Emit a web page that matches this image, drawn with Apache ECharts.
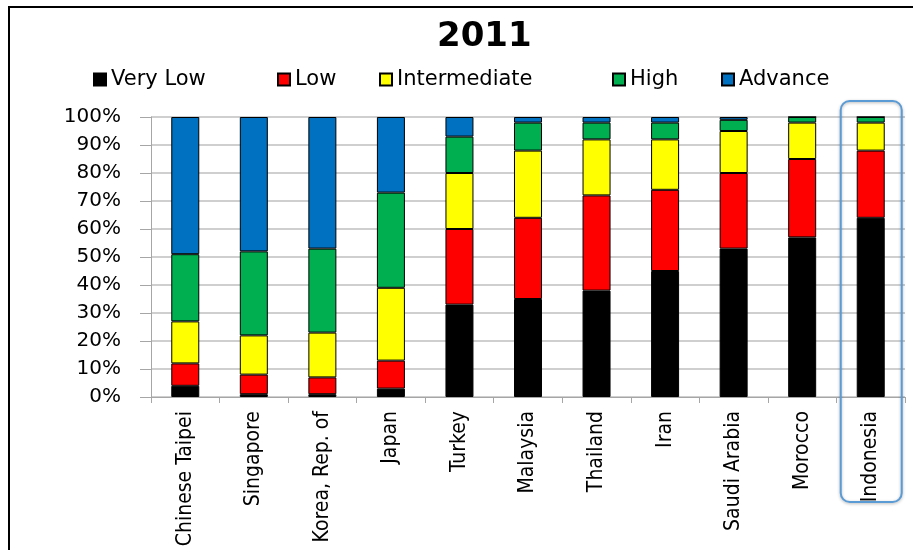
<!DOCTYPE html>
<html><head><meta charset="utf-8">
<script src="https://cdn.jsdelivr.net/npm/echarts@6/dist/echarts.min.js"></script>
<style>html,body{margin:0;padding:0;background:#fff}#c{width:913px;height:550px}</style>
</head><body><div id="c"></div>
<script>
const categories = ['Chinese Taipei','Singapore','Korea, Rep. of','Japan','Turkey','Malaysia','Thailand','Iran','Saudi Arabia','Morocco','Indonesia'];
const veryLow      = [4, 1, 1, 3, 33, 35, 38, 45, 53, 57, 64];
const low          = [8, 7, 6, 10, 27, 29, 34, 29, 27, 28, 24];
const intermediate = [15, 14, 16, 26, 20, 24, 20, 18, 15, 13, 10];
const high         = [24, 30, 30, 34, 13, 10, 6, 6, 4, 2, 2];
const advance      = [49, 48, 47, 27, 7, 2, 2, 2, 1, 0, 0];
const seriesNames  = ['Very Low','Low','Intermediate','High','Advance'];
const yTicks = ['0%','10%','20%','30%','40%','50%','60%','70%','80%','90%','100%'];

const colors = ['#000000','#FF0000','#FFFF00','#00B050','#0070C0'];
const dataSets = [veryLow, low, intermediate, high, advance];
const legendLefts = [88, 272, 374, 607, 716];

const chart = echarts.init(document.getElementById('c'));
const series = seriesNames.map((n,i)=>({
  name:n, type:'bar', stack:'s', barWidth:28, data:dataSets[i],
  itemStyle:{color:colors[i], borderColor:'#000', borderWidth:1}
}));
chart.setOption({
  animation:false,
  title:{text:'2011', left:432, top:15, textStyle:{fontFamily:'DejaVu Sans', fontWeight:'bold', fontSize:34, color:'#000'}},
  legend:seriesNames.map((n,i)=>({left:legendLefts[i], top:64, icon:'rect', itemWidth:12, itemHeight:12,
    data:[n], textStyle:{fontFamily:'DejaVu Sans', fontSize:21, color:'#000'}})),
  grid:{left:151, right:8, top:117, bottom:153},
  xAxis:{type:'category', data:categories,
    axisLine:{lineStyle:{color:'#a6a6a6'}},
    axisTick:{show:true, length:6, lineStyle:{color:'#a6a6a6'}},
    axisLabel:{rotate:90, margin:14, color:'#000', fontSize:21, fontFamily:'Liberation Sans Narrow, DejaVu Sans Condensed, sans-serif'}},
  yAxis:{type:'value', min:0, max:100, interval:10,
    axisLine:{show:true, lineStyle:{color:'#a6a6a6'}},
    axisTick:{show:true, length:11, lineStyle:{color:'#a6a6a6'}},
    splitLine:{lineStyle:{color:'#bfbfbf', width:1.5}},
    axisLabel:{margin:30, color:'#000', fontSize:20, fontFamily:'DejaVu Sans',
      formatter:(v)=>yTicks[Math.round(v/10)]}},
  series:series
});
const cx = chart.convertToPixel({xAxisIndex:0}, 'Indonesia');
chart.setOption({graphic:[
  {type:'rect', shape:{x:9, y:7, width:920, height:600}, style:{fill:'none', stroke:'#000', lineWidth:2}, silent:true},
  {type:'rect', shape:{x:cx-30, y:101, width:61, height:401, r:9}, style:{fill:'none', stroke:'#5B9BD5', lineWidth:2, shadowBlur:3, shadowColor:'rgba(0,0,0,0.3)', shadowOffsetY:1}, silent:true, z:100}
]});
</script></body></html>
